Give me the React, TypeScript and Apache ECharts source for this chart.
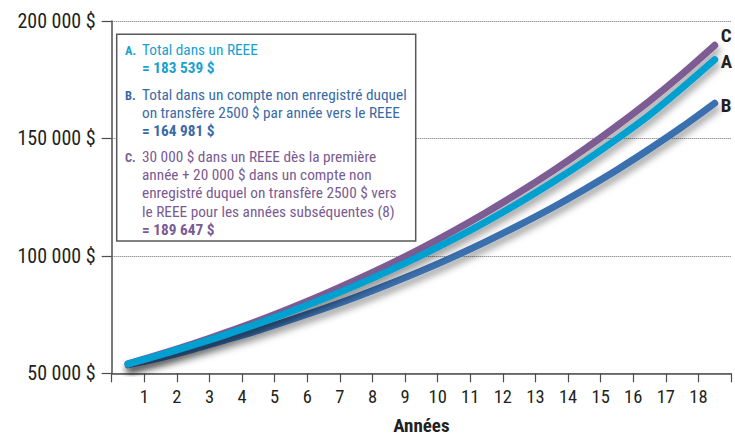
import React, { useEffect, useRef } from 'react';
import * as echarts from 'echarts';

const FONT = '"Liberation Sans Narrow", "Arial Narrow", "Roboto Condensed", "Liberation Sans", sans-serif';

// Years (points are drawn half a step before the year tick, as in the reference)
const years = [1, 2, 3, 4, 5, 6, 7, 8, 9, 10, 11, 12, 13, 14, 15, 16, 17, 18];

// A. Total dans un REEE
const totalA = [54000, 57900, 62050, 66500, 71200, 76300, 81700, 87450, 93600, 100200, 107200, 114650, 122600, 131100, 140150, 149750, 160000, 171500, 183539];
// B. Compte non enregistré avec transferts
const totalB = [53600, 56600, 60200, 64200, 68300, 72800, 77500, 82500, 87900, 93600, 99700, 106200, 113100, 120400, 128300, 136600, 145500, 154900, 164981];
// C. 30 000 $ REEE + 20 000 $ non enregistré
const totalC = [54000, 58150, 62600, 67350, 72400, 77850, 83600, 89750, 96300, 103250, 110700, 118600, 126950, 135850, 145300, 155350, 165950, 177400, 189647];

const xTickLabels = ['1', '2', '3', '4', '5', '6', '7', '8', '9', '10', '11', '12', '13', '14', '15', '16', '17', '18'];
const yTickValues = [50000, 100000, 150000, 200000];
const yTickLabels = ['50 000 $', '100 000 $', '150 000 $', '200 000 $'];

const legendA = ['Total dans un REEE', '= 183 539 $'];
const legendB = ['Total dans un compte non enregistré duquel', 'on transfère 2500 $ par année vers le REEE', '= 164 981 $'];
const legendC = [
  '30 000 $ dans un REEE dès la première',
  'année + 20 000 $ dans un compte non',
  'enregistré duquel on transfère 2500 $ vers',
  'le REEE pour les années subséquentes (8)',
  '= 189 647 $',
];

const COLOR_A = '#00a0d1';
const COLOR_B = '#3a6fae';
const COLOR_C = '#7b5b93';
const TEXT_A = '#199fd0';
const TEXT_B = '#3a6aa6';
const TEXT_C = '#7a5a93';

// x positions of the points: offset of half a year before each tick
const pointsFrom = (vals: number[]) => {
  const xs = [0.5, ...years.map((y) => y + 0.5)];
  return vals.map((v, i) => [xs[i], v]);
};

const lineSeries = (name: string, vals: number[], color: string, label: string, dy: number) => ({
  name,
  type: 'line',
  data: pointsFrom(vals),
  smooth: 0.3,
  showSymbol: false,
  symbol: 'none',
  lineStyle: {
    color,
    width: 7,
    cap: 'round',
    join: 'round',
    shadowColor: 'rgba(0,0,0,0.38)',
    shadowBlur: 7,
    shadowOffsetX: 2,
    shadowOffsetY: 5,
  },
  endLabel: {
    show: true,
    formatter: label,
    offset: [0, dy],
    distance: 6,
    color: '#231f20',
    fontFamily: FONT,
    fontWeight: 'bold',
    fontSize: 19,
  },
  emphasis: { disabled: true },
});

const blockTexts = (
  letter: string,
  lines: string[],
  ys: number[],
  color: string,
) => {
  const out: any[] = [
    {
      type: 'text',
      x: 125,
      y: ys[0] + 0.5,
      z: 12,
      style: {
        text: letter,
        fill: color,
        fontFamily: FONT,
        fontWeight: 'bold',
        fontSize: 12.5,
        verticalAlign: 'middle',
      },
    },
  ];
  lines.forEach((t, i) => {
    const isValue = t.startsWith('=');
    out.push({
      type: 'text',
      x: 142,
      y: ys[i],
      z: 12,
      style: {
        text: t,
        fill: color,
        fontFamily: FONT,
        fontWeight: isValue ? 'bold' : 'normal',
        fontSize: 15.3,
        verticalAlign: 'middle',
      },
    });
  });
  return out;
};

export default function App() {
  const ref = useRef<HTMLDivElement>(null);
  useEffect(() => {
    document.body.style.margin = '0';
    const chart = echarts.init(ref.current!, null, { renderer: 'svg' });
    chart.setOption({
      animation: false,
      backgroundColor: '#ffffff',
      grid: { left: 111.7, right: 4, top: 21, bottom: 64.7, containLabel: false, outerBoundsMode: 'none' },
      xAxis: {
        type: 'value',
        min: 0,
        max: 19,
        interval: 1,
        name: 'Années',
        nameLocation: 'middle',
        nameGap: 43,
        nameTextStyle: { fontFamily: FONT, fontWeight: 'bold', fontSize: 19, lineHeight: 19, color: '#231f20' },
        axisLine: { show: true, lineStyle: { color: '#4d4d4f', width: 1.5 } },
        axisTick: { show: true, length: 9, lineStyle: { color: '#4d4d4f', width: 1.2 } },
        axisLabel: {
          margin: 14,
          fontFamily: FONT,
          fontSize: 18.5,
          color: '#231f20',
          formatter: (v: number) => (v >= 1 && v <= 18 ? xTickLabels[v - 1] : ''),
        },
        splitLine: { show: false },
      },
      yAxis: {
        type: 'value',
        min: 50000,
        max: 200000,
        interval: 50000,
        axisLine: { show: true, lineStyle: { color: '#4d4d4f', width: 1.5 } },
        axisTick: { show: true, length: 10, lineStyle: { color: '#4d4d4f', width: 1.2 } },
        axisLabel: {
          margin: 16,
          fontFamily: FONT,
          fontSize: 20,
          color: '#231f20',
          formatter: (v: number) => yTickLabels[yTickValues.indexOf(v)] ?? '',
        },
        splitLine: { show: true, lineStyle: { type: 'dotted', color: '#6d6e71', width: 1 } },
      },
      series: [
        lineSeries('B', totalB, COLOR_B, 'B', 2),
        lineSeries('C', totalC, COLOR_C, 'C', -10),
        lineSeries('A', totalA, COLOR_A, 'A', 2),
      ],
      graphic: [
        {
          type: 'rect',
          z: 11,
          shape: { x: 116.7, y: 34.3, width: 299, height: 206.7 },
          style: { fill: '#ffffff', stroke: '#58595b', lineWidth: 1.5 },
        },
        ...blockTexts('A.', legendA, [50, 68], TEXT_A),
        ...blockTexts('B.', legendB, [95, 113, 131], TEXT_B),
        ...blockTexts('C.', legendC, [157, 175, 193, 211.5, 229.5], TEXT_C),
      ],
    });
    return () => chart.dispose();
  }, []);
  return <div ref={ref} style={{ width: 735, height: 438, background: '#fff' }} />;
}
